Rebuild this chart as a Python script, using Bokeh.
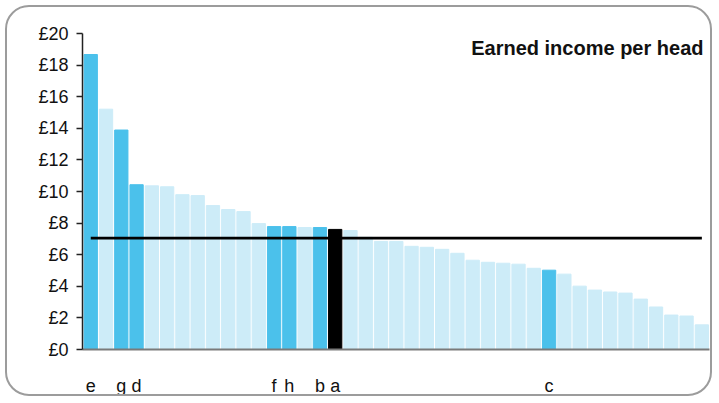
from bokeh.plotting import figure
from bokeh.models import Range1d, FixedTicker, PrintfTickFormatter, Label, ColumnDataSource
from bokeh.embed import file_html
from bokeh.resources import INLINE

# ---- data ----
values = [18.67, 15.21, 13.89, 10.43, 10.36, 10.30, 9.80, 9.74, 9.11, 8.86,
          8.73, 7.97, 7.78, 7.78, 7.72, 7.72, 7.60, 7.53, 7.10, 6.84,
          6.84, 6.53, 6.47, 6.34, 6.09, 5.65, 5.52, 5.46, 5.40, 5.14,
          5.02, 4.77, 4.01, 3.76, 3.64, 3.57, 3.19, 2.69, 2.18, 2.12, 1.56]
groups = ["hl", "n", "hl", "hl", "n", "n", "n", "n", "n", "n",
          "n", "n", "hl", "hl", "n", "hl", "sel", "n", "n", "n",
          "n", "n", "n", "n", "n", "n", "n", "n", "n", "n",
          "hl", "n", "n", "n", "n", "n", "n", "n", "n", "n", "n"]
bar_labels = ["e", "", "g", "d", "", "", "", "", "", "",
              "", "", "f", "h", "", "b", "a", "", "", "",
              "", "", "", "", "", "", "", "", "", "",
              "c", "", "", "", "", "", "", "", "", "", ""]
average = 7.05
y_ticks = [0, 2, 4, 6, 8, 10, 12, 14, 16, 18, 20]
title_text = "Earned income per head"

group_colors = {"hl": "#4BC1EB", "n": "#CDECF8", "sel": "#000000"}

positions = list(range(1, len(values) + 1))
colors = [group_colors[g] for g in groups]
src = ColumnDataSource(dict(x=positions, top=values, color=colors))

FONT = "Liberation Sans"
X_MAX = len(values) + 0.5
Y_MAX = 20

p = figure(width=707, height=391, output_backend="svg", toolbar_location=None,
           x_range=Range1d(0.46, X_MAX), y_range=Range1d(0, Y_MAX),
           min_border_left=75, min_border_right=5, min_border_top=26, min_border_bottom=47)
p.styles = {"position": "absolute", "left": "5px", "top": "5px",
            "border": "2px solid #9c9c9c", "border-radius": "24px",
            "background": "white", "overflow": "hidden"}
p.outline_line_color = None
p.xgrid.visible = False
p.ygrid.visible = False
p.background_fill_color = None
p.border_fill_color = None

p.vbar(x="x", top="top", width=0.87, color="color", source=src)

# average line from first to last bar centre
p.line(x=[positions[0], positions[-1]], y=[average, average], line_color="black", line_width=2.6)

# y axis
ya = p.yaxis[0]
ya.ticker = FixedTicker(ticks=y_ticks)
ya.formatter = PrintfTickFormatter(format="£%d")
ya.axis_line_color = "#222222"
ya.axis_line_width = 1.5
ya.major_tick_line_color = "#222222"
ya.major_tick_line_width = 1.5
ya.major_tick_out = 6
ya.major_tick_in = 0
ya.minor_tick_line_color = None
ya.major_label_text_font = FONT
ya.major_label_text_font_size = "18px"
ya.major_label_text_color = "#111111"
ya.major_label_standoff = 8

# x axis with letter labels
xa = p.xaxis[0]
tick_pos = [pos for pos, lab in zip(positions, bar_labels) if lab]
xa.ticker = FixedTicker(ticks=tick_pos)
xa.major_label_overrides = {pos: lab for pos, lab in zip(positions, bar_labels) if lab}
xa.axis_line_color = "#7a7a7a"
xa.axis_line_width = 2
xa.major_tick_line_color = None
xa.minor_tick_line_color = None
xa.major_label_text_font = FONT
xa.major_label_text_font_size = "18px"
xa.major_label_text_color = "#111111"
xa.major_label_standoff = 20

title = Label(x=X_MAX, y=Y_MAX, x_offset=-6, y_offset=-14, text=title_text,
              text_align="right", text_baseline="alphabetic", text_font=FONT,
              text_font_size="20px", text_font_style="bold", text_color="#111111")
p.add_layout(title)

open("out.html", "w").write(file_html(p, INLINE))
